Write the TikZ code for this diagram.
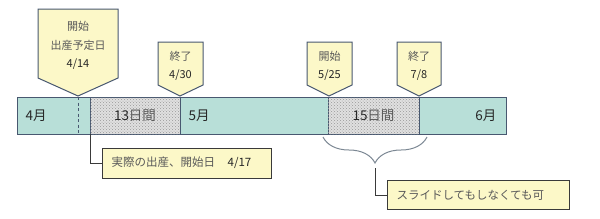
\documentclass[tikz,border=0pt]{standalone}
\usepackage{fontspec}
\newfontfamily\jpfont{Noto Sans CJK JP}
\usetikzlibrary{positioning,patterns,decorations.pathreplacing,calc}
\definecolor{ink}{HTML}{262626}
\definecolor{soft}{HTML}{595959}
\definecolor{edge}{HTML}{485870}
\definecolor{darkline}{HTML}{3A3A3A}
\definecolor{month}{HTML}{B8DFD8}
\definecolor{memo}{HTML}{FCF8C8}
\definecolor{bracegray}{HTML}{7C8894}
\tikzset{
  every node/.style={font=\jpfont\fontsize{11.5}{14}\selectfont,text=ink},
  seg/.style={draw=edge,line width=1pt,fill=month,minimum height=37pt,inner sep=0pt,outer sep=0pt},
  hatchseg/.style={seg,fill=black!12,postaction={pattern=crosshatch dots,pattern color=black!40}},
  monthlabel/.style={font=\jpfont\fontsize{13.5}{16}\selectfont},
  flag/.style={draw=edge,line width=1pt,fill=memo,line join=miter},
  flagtext/.style={align=center,text=soft,font=\jpfont\fontsize{11}{18.5}\selectfont},
  memobox/.style={draw=darkline,line width=1pt,fill=memo,anchor=west,inner xsep=9pt,align=left,text=soft},
  leader/.style={draw=darkline,line width=0.9pt},
  bracket/.style={draw=bracegray,line width=1pt,decorate,decoration={brace,mirror,amplitude=26pt,aspect=0.5}},
}
\begin{document}
\begin{tikzpicture}[x=1pt,y=-1pt]
\useasboundingbox (0,0) rectangle (600,218);

% the bar
\node[seg,minimum width=73pt,anchor=north west] (apr) at (17,97) {};
\node[hatchseg,minimum width=90pt,right=0pt of apr] (gapa) {};
\node[seg,minimum width=148pt,right=0pt of gapa] (may) {};
\node[hatchseg,minimum width=91pt,right=0pt of may] (gapb) {};
\node[seg,minimum width=87pt,right=0pt of gapb] (jun) {};

\node[monthlabel,right=5pt of apr.west] (aprtext) {4月};
\node[monthlabel] (gapatext) at (gapa.center) {13\textcolor{soft}{日間}};
\node[monthlabel,right=5pt of may.west] (maytext) {5月};
\node[monthlabel] (gapbtext) at (gapb.center) {15\textcolor{soft}{日間}};
\node[monthlabel,left=6pt of jun.east] (juntext) {6月};

% flags above the bar
\coordinate (duetip) at (78,96);
\coordinate (endatip) at (180,96);
\coordinate (startbtip) at (329,96);
\coordinate (endbtip) at (419,96);
\draw[flag] (38,9) -- (118,9) -- (118,78) -- (duetip) -- (38,78) -- cycle;
\draw[flag] (158,42) -- (203,42) -- (203,85) -- (endatip) -- (158,85) -- cycle;
\draw[flag] (307,42) -- (352,42) -- (352,85) -- (startbtip) -- (307,85) -- cycle;
\draw[flag] (397,42) -- (441,42) -- (441,85) -- (endbtip) -- (397,85) -- cycle;

\node[flagtext] (due) at (78,45.5) {開始\\出産予定日\\\textcolor{ink}{4/14}};
\node[flagtext] (enda) at (180.5,66) {終了\\\textcolor{ink}{4/30}};
\node[flagtext] (startb) at (329.5,66) {開始\\\textcolor{ink}{5/25}};
\node[flagtext] (endb) at (419,66) {終了\\\textcolor{ink}{7/8}};

\draw[edge,line width=1pt,dash pattern=on 3pt off 2.5pt] (duetip |- apr.north) -- (duetip |- apr.south);

% notes below the bar
\node[memobox,minimum width=169pt,minimum height=30pt,text width=151pt] (actual) at (102,163) {実際の出産、開始日\hspace{1.1em}\textcolor{ink}{4/17}};
\draw[leader] (gapa.south west) |- (actual.west);

\coordinate (bracel) at (323,137);
\coordinate (bracer) at (427,137);
\draw[bracket] (bracel) -- (bracer);
\coordinate (bracetip) at (375,168);
\node[memobox,minimum width=182pt,minimum height=29pt,text width=164pt] (slide) at (387,195) {スライドしてもしなくても可};
\draw[leader] (bracetip) |- (slide.west);

\end{tikzpicture}
\end{document}
